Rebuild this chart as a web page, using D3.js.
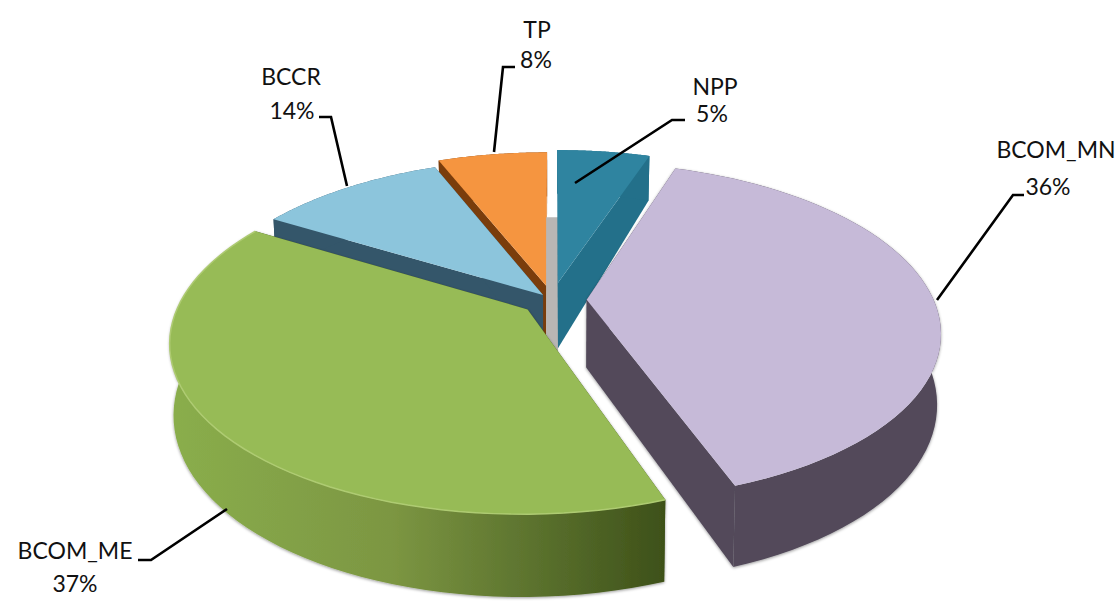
<!DOCTYPE html>
<html>
<head>
<meta charset="utf-8">
<style>
    html, body { margin: 0; padding: 0; background: #fff; }
    svg { display: block; }
    text { font-family: Lato, "Open Sans", sans-serif; font-size: 23px; fill: #111; text-anchor: middle; }
    .leader { fill: none; stroke: #000; stroke-width: 2.6px; }
</style>
</head>
<body>
<svg width="1116" height="602"></svg>
<script src="https://d3js.org/d3.v7.min.js"></script>
<script>
    // what the labels print
    var categories = ["NPP", "BCOM_MN", "BCOM_ME", "BCCR", "TP"];
    var percentLabels = ["5%", "36%", "37%", "14%", "8%"];
    // share of the circle each slice takes as drawn
    // (the tilted view does not follow the printed percentages exactly)
    var drawnShares = [5.15, 39.4, 39.05, 10.35, 6.05];

    var topColors = ["#2f84a0", "#c6bad8", "#97bb56", "#8cc5dc", "#f59540"];
    var wallColors = ["#23708a", "#524a5a", "#3f5220", "#34566a", "#7a3d0c"];
    var explode = [0.11, 0.10, 0.09, 0.04, 0.09];

    var svg = d3.select("svg");
    var cx = 552, cy = 300, tilt = 0.185;
    var sx = d3.scaleLinear().domain([-1, 1]).range([-347, 347]);
    var sy = d3.scaleLinear().domain([-1, 1]).range([163, -163]);
    var line = d3.line();

    var defs = svg.append("defs");
    var grad = defs.append("linearGradient").attr("id", "greenWall")
        .attr("gradientUnits", "userSpaceOnUse")
        .attr("x1", 170).attr("x2", 664).attr("y1", 0).attr("y2", 0);
    grad.append("stop").attr("offset", "0").attr("stop-color", "#8aae4c");
    grad.append("stop").attr("offset", "0.45").attr("stop-color", "#7c9642");
    grad.append("stop").attr("offset", "0.8").attr("stop-color", "#546a29");
    grad.append("stop").attr("offset", "1").attr("stop-color", "#3e5119");

    var soft = defs.append("filter").attr("id", "soft")
        .attr("x", "-5%").attr("y", "-5%").attr("width", "110%").attr("height", "110%");
    soft.append("feDropShadow").attr("dx", 0).attr("dy", 1)
        .attr("stdDeviation", 1.6).attr("flood-color", "#000").attr("flood-opacity", 0.4);

    var slices = d3.pie().sort(null)(drawnShares);

    // point on a slice at radius r and angle a, optionally pushed down to the base
    function pt(s, r, a, down) {
        var mid = (s.startAngle + s.endAngle) / 2,
            e = explode[s.index],
            X = e * Math.sin(mid) + r * Math.sin(a),
            Y = e * Math.cos(mid) + r * Math.cos(a),
            w = 1 + tilt * Y,
            x = sx(X) / w,
            depth = 0;
        if (down) {
            depth = Y > 0 ? 68 - 22 * Y : 68 - 14 * Y;
            x = x * 0.99;
        }
        return [cx + x, cy + sy(Y) / w + depth];
    }

    function rim(s, down) {
        var n = 60;
        return d3.range(n + 1).map(function(i) {
            return pt(s, 1, s.startAngle + (s.endAngle - s.startAngle) * i / n, down);
        });
    }

    function drawSlice(s) {
        var g = svg.append("g").attr("class", "slice " + categories[s.index]);
        var wall = wallColors[s.index];
        var walls = g.append("g").attr("filter", s.index == 1 || s.index == 2 ? "url(#soft)" : null);
        [s.startAngle, s.endAngle].forEach(function(a) {
            walls.append("path")
                .attr("d", line([pt(s, 0, a), pt(s, 1, a), pt(s, 1, a, true), pt(s, 0, a, true)]) + "Z")
                .attr("fill", wall);
        });
        walls.append("path")
            .attr("d", line(rim(s).concat(rim(s, true).reverse())) + "Z")
            .attr("fill", s.index == 2 ? "url(#greenWall)" : wall);
        g.append("path")
            .attr("d", line([pt(s, 0, s.startAngle)].concat(rim(s))) + "Z")
            .attr("fill", topColors[s.index]);
        if (s.index == 2) {
            // pale highlight along the green rim
            g.append("path")
                .attr("d", line(rim(s)))
                .attr("fill", "none")
                .attr("stroke", "#aecb72")
                .attr("stroke-width", 1.5);
        }
    }

    // back slices first so the front ones cover them; TP goes under BCCR
    // so only a sliver of its side wall stays visible
    drawSlice(slices[4]);
    drawSlice(slices[3]);

    // grey inner wall showing through the gap between TP and NPP
    var tp = slices[4], npp = slices[0];
    var gapLeft = pt(tp, 0, tp.endAngle)[0],
        gapRight = pt(npp, 0, npp.startAngle)[0],
        gapTop = pt(tp, 1, tp.endAngle)[1] + 65,
        gapBottom = pt(tp, 0, tp.endAngle)[1] + 70;
    svg.append("path")
        .attr("d", line([[gapLeft, gapTop], [gapRight, gapTop], [gapRight, gapBottom], [gapLeft, gapBottom]]) + "Z")
        .attr("fill", "#b9b6b4");

    drawSlice(slices[0]);
    drawSlice(slices[2]);
    drawSlice(slices[1]);

    // leader lines and labels, placed by hand like the original
    var leaders = [
        [[575, 183], [672, 120], [685, 120]],
        [[937, 300], [1013, 195], [1024, 195]],
        [[227, 509], [151, 560], [138, 560]],
        [[347, 186], [331, 117], [319, 117]],
        [[494, 152], [503, 67], [515, 67]]
    ];
    var labelPos = [
        { x: 715, y: 95, px: 712, py: 122 },
        { x: 1056, y: 158, px: 1048, py: 195 },
        { x: 75, y: 559, px: 75, py: 592 },
        { x: 291, y: 85, px: 292, py: 119 },
        { x: 537, y: 38, px: 536, py: 68 }
    ];

    svg.selectAll(".leader").data(leaders).enter().append("path")
        .attr("class", "leader")
        .attr("d", function(d) { return line(d); });

    labelPos.forEach(function(p, i) {
        svg.append("text").attr("x", p.x).attr("y", p.y).text(categories[i]);
        svg.append("text").attr("x", p.px).attr("y", p.py).text(percentLabels[i]);
    });
</script>
</body>
</html>
